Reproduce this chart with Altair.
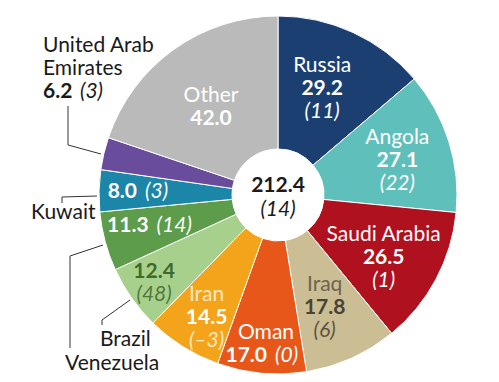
import math
import altair as alt
import pandas as pd

# ---------------- data ----------------
countries = ["Russia", "Angola", "Saudi Arabia", "Iraq", "Oman", "Iran",
             "Brazil", "Venezuela", "Kuwait", "United Arab Emirates", "Other"]
values = [29.2, 27.1, 26.5, 17.8, 17.0, 14.5, 12.4, 11.3, 8.0, 6.2, 42.0]
value_labels = ["29.2", "27.1", "26.5", "17.8", "17.0", "14.5", "12.4", "11.3", "8.0", "6.2", "42.0"]
change_labels = ["(11)", "(22)", "(1)", "(6)", "(0)", "(\u20133)", "(48)", "(14)", "(3)", "(3)", ""]
name_labels = ["Russia", "Angola", "Saudi Arabia", "Iraq", "Oman", "Iran", "", "", "", "", "Other"]
total_value = "212.4"
total_change = "(14)"

colors = ["#1c3f72", "#5fbfba", "#b0111e", "#cbbd94", "#e8571a", "#f3a41b",
          "#a8d08d", "#5c9c4a", "#1b86a8", "#6a4c9c", "#bababa"]

# ---------------- layout (styles / positions, not data) ----------------
W, H = 483, 366
CX, CY = 270, 187
R_OUT, R_IN = 179, 46
FS = 21
LINE = 23
FONT = "Lato"

# label kind, label radius, angle tweak (deg)
inside = {
    "Russia": ("stack", 115, -2.2),
    "Angola": ("stack", 124, 1.6),
    "Saudi Arabia": ("stack", 123, 2.7),
    "Iraq": ("stack", 122, 1.8),
    "Oman": ("name_inline", 161, -1.0),
    "Iran": ("stack", 142, -1.8),
    "Brazil": ("valchg", 146, 3.2),
    "Venezuela": ("inline", 134, 1.7),
    "Kuwait": ("inline", 142, 0.0),
    "Other": ("nameval", 101, -5.9),
}
text_colors = {
    "Iraq": ("#6e6450", "#4a4333", "#5c5340"),
    "Brazil": ("#3f6a2b", "#3f6a2b", "#4f7a3b"),
    "Iran": ("#fde9c4", "#ffffff", "#fde9c4"),
}

df = pd.DataFrame({"country": countries, "value": values, "idx": list(range(len(countries)))})

total = sum(values)
cum = 0.0
mids = {}
for c, v in zip(countries, values):
    mids[c] = (cum + v / 2) / total * 2 * math.pi
    cum += v

rows = {"name_c": [], "val_c": [], "chg_c": [], "val_in": [], "chg_in": []}
for c, nm, vl, ch in zip(countries, name_labels, value_labels, change_labels):
    if c not in inside:
        continue
    kind, r, tw = inside[c]
    ang = mids[c] + math.radians(tw)
    nc, vc, cc = text_colors.get(c, ("#ffffff", "#ffffff", "#ffffff"))
    def add(layer, txt, col):
        rows[layer].append({"t": txt, "ang": ang, "r": r, "col": col})
    if kind in ("stack", "nameval", "name_inline"):
        add("name_c", nm, nc)
    if kind in ("stack", "nameval", "valchg"):
        add("val_c", vl, vc)
    if kind in ("stack", "valchg"):
        add("chg_c", ch, cc)
    if kind in ("inline", "name_inline"):
        add("val_in", vl, vc)
        add("chg_in", ch, cc)

arcs = alt.Chart(df).mark_arc(innerRadius=R_IN, outerRadius=R_OUT, stroke="#ffffff",
                              strokeWidth=1).encode(
    theta=alt.Theta("value:Q", stack=True),
    order=alt.Order("idx:Q"),
    color=alt.Color("country:N", scale=alt.Scale(domain=countries, range=colors), legend=None),
    x=alt.value(CX), y=alt.value(CY),
)


def text_layer(key, align="center", dx=0, dy=0, weight="normal", style="normal"):
    d = pd.DataFrame(rows[key])
    return alt.Chart(d).mark_text(font=FONT, fontSize=FS, align=align, baseline="middle",
                                  dx=dx, dy=dy, fontWeight=weight, fontStyle=style).encode(
        theta=alt.Theta("ang:Q", scale=None),
        radius=alt.Radius("r:Q", scale=None),
        text="t:N",
        color=alt.Color("col:N", scale=None),
        x=alt.value(CX), y=alt.value(CY),
    )


layers = [
    arcs,
    text_layer("name_c", dy=-LINE),
    text_layer("val_c", weight="bold"),
    text_layer("chg_c", dy=LINE, style="italic"),
    text_layer("val_in", align="right", dx=1, weight="bold"),
    text_layer("chg_in", align="left", dx=9, style="italic"),
]

# centre total
center = pd.DataFrame({"t": [total_value, total_change], "ang": [0.0, math.pi],
                       "r": [9, 15], "w": ["bold", "normal"]})
layers.append(alt.Chart(center.iloc[[0]]).mark_text(font=FONT, fontSize=FS, fontWeight="bold",
                                                     baseline="middle", color="#1a1a1a").encode(
    theta=alt.Theta("ang:Q", scale=None), radius=alt.Radius("r:Q", scale=None),
    text="t:N", x=alt.value(CX), y=alt.value(CY)))
layers.append(alt.Chart(center.iloc[[1]]).mark_text(font=FONT, fontSize=FS, fontStyle="italic",
                                                     baseline="middle", color="#1a1a1a").encode(
    theta=alt.Theta("ang:Q", scale=None), radius=alt.Radius("r:Q", scale=None),
    text="t:N", x=alt.value(CX), y=alt.value(CY)))

# external labels (annotation positions)
ext = pd.DataFrame([
    {"t": "United Arab", "x": 35, "y": 44, "w": "normal", "s": "normal"},
    {"t": "Emirates", "x": 35, "y": 67, "w": "normal", "s": "normal"},
    {"t": value_labels[9], "x": 35, "y": 90, "w": "bold", "s": "normal"},
    {"t": change_labels[9], "x": 72, "y": 90, "w": "normal", "s": "italic"},
    {"t": "Kuwait", "x": 23, "y": 211, "w": "normal", "s": "normal"},
    {"t": "Brazil", "x": 92, "y": 338, "w": "normal", "s": "normal"},
    {"t": "Venezuela", "x": 57, "y": 362, "w": "normal", "s": "normal"},
])
for (w, s), g in ext.groupby(["w", "s"]):
    layers.append(alt.Chart(g).mark_text(font=FONT, fontSize=FS, align="left",
                                         baseline="alphabetic", fontWeight=w, fontStyle=s,
                                         color="#1a1a1a").encode(
        x=alt.X("x:Q", scale=None, axis=None), y=alt.Y("y:Q", scale=None, axis=None),
        text="t:N"))

leaders = pd.DataFrame([
    {"id": "uae", "s": 0, "x": 60, "y": 98}, {"id": "uae", "s": 1, "x": 60, "y": 137},
    {"id": "uae", "s": 2, "x": 93, "y": 146},
    {"id": "kw", "s": 0, "x": 54, "y": 195}, {"id": "kw", "s": 1, "x": 54, "y": 189},
    {"id": "kw", "s": 2, "x": 89, "y": 188},
    {"id": "ve", "s": 0, "x": 95, "y": 237}, {"id": "ve", "s": 1, "x": 62, "y": 248},
    {"id": "ve", "s": 2, "x": 62, "y": 340},
    {"id": "br", "s": 0, "x": 122, "y": 292}, {"id": "br", "s": 1, "x": 94, "y": 312},
    {"id": "br", "s": 2, "x": 94, "y": 317},
])
layers.append(alt.Chart(leaders).mark_line(color="#333333", strokeWidth=1).encode(
    x=alt.X("x:Q", scale=None, axis=None), y=alt.Y("y:Q", scale=None, axis=None),
    detail="id:N", order="s:Q"))

chart = alt.layer(*layers).properties(
    width=W, height=H, autosize=alt.AutoSizeParams(type="none"), padding=0,
    background="#ffffff",
).configure_view(stroke=None)

chart.save("out.html", embed_options={"renderer": "svg", "actions": False})
